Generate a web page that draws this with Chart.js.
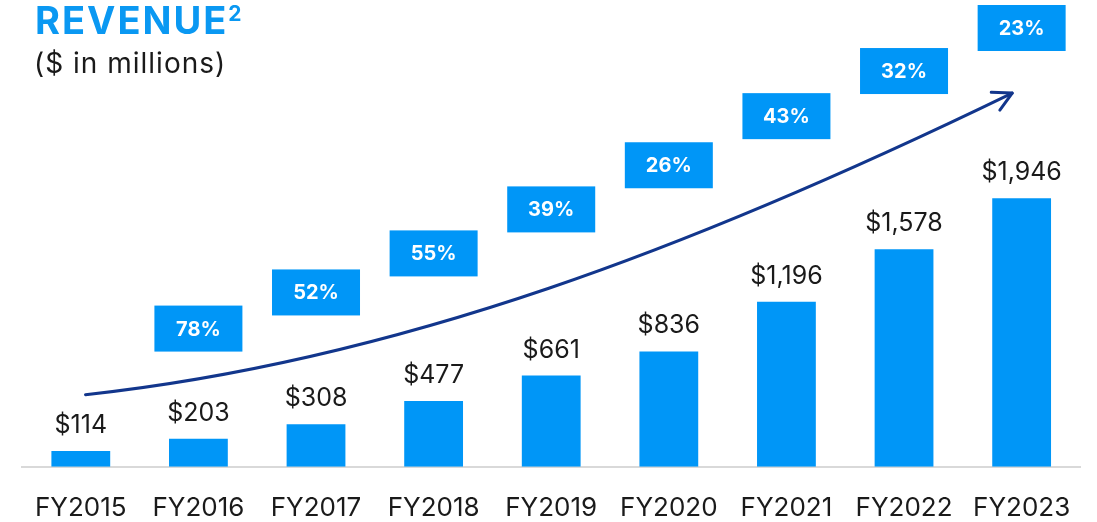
<!DOCTYPE html>
<html>
<head>
<meta charset="utf-8">
<script src="https://cdn.jsdelivr.net/npm/chart.js@4/dist/chart.umd.min.js"></script>
<style>
    html, body { margin: 0; padding: 0; background: #fff; }
    #wrap { width: 1097px; height: 522px; }
</style>
</head>
<body>
<div id="wrap"><canvas id="revenueChart" width="1097" height="522"></canvas></div>
<script>
// revenue, $ in millions
const years = ['FY2015', 'FY2016', 'FY2017', 'FY2018', 'FY2019', 'FY2020', 'FY2021', 'FY2022', 'FY2023'];
const revenue = [114, 203, 308, 477, 661, 836, 1196, 1578, 1946];

// year over year growth, FY2016 .. FY2023
const growth = ['78%', '52%', '55%', '39%', '26%', '43%', '32%', '23%'];
// level (in $M on the value axis) where each growth badge sits
const growthLevel = [1002, 1264, 1547, 1866, 2186, 2542, 2869, 3181];

// trend arrow: [category index, value] for start, two control points, end
const arrowPath = [[0.04, 523], [2.71, 770], [5.25, 1605], [7.92, 2709]];

const BLUE = '#0096f7';
const NAVY = '#12368c';
const FONT = 'Inter, "Noto Sans", sans-serif';

function comma(x) {
    return x.toString().replace(/\B(?=(\d{3})+(?!\d))/g, ',');
}

const extras = {
    id: 'extras',
    afterDatasetsDraw(chart) {
        const ctx = chart.ctx;
        const xs = chart.scales.x;
        const ys = chart.scales.y;
        const meta = chart.getDatasetMeta(0);

        ctx.save();
        // value labels
        ctx.fillStyle = '#1a1a1a';
        ctx.font = '25px ' + FONT;
        ctx.textAlign = 'center';
        ctx.textBaseline = 'alphabetic';
        meta.data.forEach(function (bar, i) {
            ctx.fillText('$' + comma(revenue[i]), bar.x, bar.y - 18);
        });

        // growth badges
        ctx.font = 'bold 20px ' + FONT;
        ctx.textBaseline = 'middle';
        growth.forEach(function (g, i) {
            let cx = xs.getPixelForValue(i + 1);
            let cy = ys.getPixelForValue(growthLevel[i]);
            ctx.fillStyle = BLUE;
            ctx.fillRect(cx - 44, cy - 23, 88, 46);
            ctx.fillStyle = '#fff';
            ctx.fillText(g, cx, cy + 1);
        });

        // trend arrow
        let p = arrowPath.map(function (a) {
            return [xs.getPixelForValue(a[0]), ys.getPixelForValue(a[1])];
        });
        ctx.strokeStyle = NAVY;
        ctx.lineWidth = 3;
        ctx.lineCap = 'round';
        ctx.lineJoin = 'round';
        ctx.beginPath();
        ctx.moveTo(p[0][0], p[0][1]);
        ctx.bezierCurveTo(p[1][0], p[1][1], p[2][0], p[2][1], p[3][0], p[3][1]);
        ctx.stroke();
        let ang = Math.atan2(p[3][1] - p[2][1], p[3][0] - p[2][0]);
        let len = 21, spread = 28 * Math.PI / 180;
        ctx.beginPath();
        ctx.moveTo(p[3][0] - len * Math.cos(ang - spread), p[3][1] - len * Math.sin(ang - spread));
        ctx.lineTo(p[3][0], p[3][1]);
        ctx.lineTo(p[3][0] - len * Math.cos(ang + spread), p[3][1] - len * Math.sin(ang + spread));
        ctx.stroke();

        // title
        ctx.textAlign = 'left';
        ctx.textBaseline = 'alphabetic';
        ctx.fillStyle = '#0a98f2';
        ctx.font = 'bold 38px ' + FONT;
        ctx.letterSpacing = '2px';
        ctx.fillText('REVENUE', 35, 34);
        let w = ctx.measureText('REVENUE').width;
        ctx.font = 'bold 21px ' + FONT;
        ctx.letterSpacing = '0px';
        ctx.fillText('2', 35 + w, 21);
        ctx.fillStyle = '#1a1a1a';
        ctx.font = '28px ' + FONT;
        ctx.letterSpacing = '1px';
        ctx.fillText('($ in millions)', 34, 73);
        ctx.restore();
    }
};

new Chart(document.getElementById('revenueChart'), {
    type: 'bar',
    data: {
        labels: years,
        datasets: [{
            label: 'Revenue',
            data: revenue,
            backgroundColor: BLUE,
            barPercentage: 0.5,
            categoryPercentage: 1
        }]
    },
    options: {
        responsive: false,
        animation: false,
        layout: { padding: { left: 22, right: 14, top: 0, bottom: -28 } },
        plugins: {
            legend: { display: false },
            tooltip: { enabled: false }
        },
        scales: {
            x: {
                grid: { display: false, drawTicks: false },
                border: { color: '#d9d9d9', width: 2 },
                ticks: { color: '#1a1a1a', font: { family: FONT, size: 26 }, padding: 26 }
            },
            y: {
                display: false,
                min: 0,
                max: 3384
            }
        }
    },
    plugins: [extras]
});
</script>
</body>
</html>
